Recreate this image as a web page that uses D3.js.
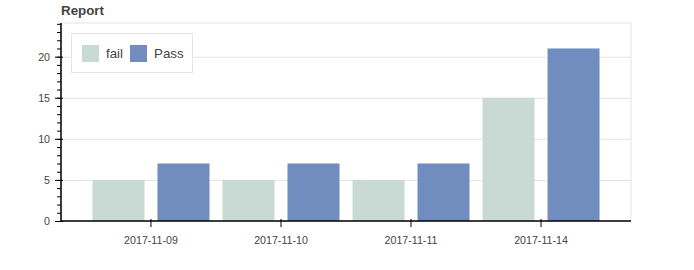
<html>
  <head>
    <script src="https://d3js.org/d3.v7.min.js"></script>
  <style>
    body { margin: 0; background: #fff; }
    .gridlines line { stroke: #e5e5e5; }
    .gridlines .domain { stroke: none; }
    text { font-family: "Liberation Sans", Arial, Helvetica, sans-serif; }
  </style>
  </head>

  <body>
    <svg id="mainSVG" width="694" height="270"></svg>
  </body>

  <script>
      const svg = d3.select("#mainSVG");

      // data
      const dates = ["2017-11-09", "2017-11-10", "2017-11-11", "2017-11-14"];
      const keys = ["fail", "Pass"];
      const failValues = [5, 5, 5, 15];
      const passValues = [7, 7, 7, 21];
      const yTicks = [0, 5, 10, 15, 20];
      const colors = ["#c9d9d3", "#718dbf"];

      const plotLeft = 61, plotRight = 631, plotTop = 23, plotBottom = 221;

      const rows = dates.map((d, i) => ({ date: d, fail: failValues[i], Pass: passValues[i] }));

      const xScale = d3.scaleBand()
        .domain(dates)
        .range([plotLeft, plotRight])
        .paddingInner(0)
        .paddingOuter(0.192);

      const xSub = d3.scaleBand()
        .domain(keys)
        .range([0, xScale.bandwidth()])
        .paddingInner(0.2)
        .paddingOuter(0.1);

      const yScale = d3.scaleLinear()
        .domain([0, 24.1])
        .range([plotBottom, plotTop]);

      const colorScale = d3.scaleOrdinal().domain(keys).range(colors);

      // plot outline (top/right)
      svg.append("rect")
        .attr("x", plotLeft).attr("y", plotTop)
        .attr("width", plotRight - plotLeft).attr("height", plotBottom - plotTop)
        .attr("fill", "none")
        .attr("stroke", "#e5e5e5");

      // gridlines
      svg.append("g")
        .attr("class", "gridlines")
        .attr("transform", `translate(${plotLeft},0)`)
        .call(d3.axisLeft(yScale).tickValues(yTicks.slice(1)).tickSize(-(plotRight - plotLeft)).tickFormat(""));

      // bars
      svg.append("g").selectAll("g")
        .data(rows)
        .join("g")
        .attr("transform", d => `translate(${xScale(d.date)},0)`)
        .selectAll("rect")
        .data(d => keys.map(k => ({ key: k, value: d[k] })))
        .join("rect")
        .attr("x", d => xSub(d.key))
        .attr("y", d => yScale(d.value))
        .attr("width", xSub.bandwidth())
        .attr("height", d => yScale(0) - yScale(d.value))
        .attr("fill", d => colorScale(d.key));

      // y axis minor ticks
      svg.append("g")
        .attr("transform", `translate(${plotLeft},0)`)
        .call(d3.axisLeft(yScale).tickValues(d3.range(0, 25)).tickSize(4).tickFormat(""))
        .call(g => g.selectAll("line").attr("stroke", "#000"))
        .call(g => g.select(".domain").remove());

      // y axis major
      const yAxis = svg.append("g")
        .attr("transform", `translate(${plotLeft},0)`)
        .call(d3.axisLeft(yScale).tickValues(yTicks).tickSizeOuter(0).tickSize(6).tickPadding(5));
      yAxis.select(".domain").attr("d", `M0,${plotTop}V${plotBottom}`).attr("stroke", "#000").attr("stroke-width", 1.5);
      yAxis.selectAll(".tick line").attr("x2", -6).attr("x1", 2);
      yAxis.selectAll("text").style("font-size", "10.67px").attr("fill", "#444");

      // x axis
      const xAxis = svg.append("g")
        .attr("transform", `translate(0,${plotBottom})`)
        .call(d3.axisBottom(xScale).tickSizeOuter(0).tickSize(6).tickPadding(9));
      xAxis.select(".domain").attr("d", `M${plotLeft},0H${plotRight}`).attr("stroke", "#000").attr("stroke-width", 1.5);
      xAxis.selectAll(".tick line").attr("y1", -2).attr("y2", 6);
      xAxis.selectAll("text").style("font-size", "10.67px").attr("fill", "#444");

      // title
      svg.append("text")
        .attr("x", plotLeft)
        .attr("y", 15)
        .text("Report")
        .style("font-size", "13.33px")
        .style("font-weight", "bold")
        .attr("fill", "#444");

      // legend
      const legend = svg.append("g");
      legend.append("rect")
        .attr("x", 71.5).attr("y", 33.5)
        .attr("width", 121).attr("height", 39)
        .attr("fill", "#fff")
        .attr("stroke", "#e5e5e5");

      const legendX = [82, 130];
      legend.selectAll("rect.sw")
        .data(keys)
        .join("rect")
        .attr("class", "sw")
        .attr("x", (d, i) => legendX[i])
        .attr("y", 45)
        .attr("width", 17).attr("height", 17)
        .attr("fill", colorScale);

      legend.selectAll("text")
        .data(keys)
        .join("text")
        .attr("x", (d, i) => legendX[i] + 24)
        .attr("y", 58)
        .text(d => d)
        .style("font-size", "13.33px")
        .attr("fill", "#444");
  </script>
</html>
